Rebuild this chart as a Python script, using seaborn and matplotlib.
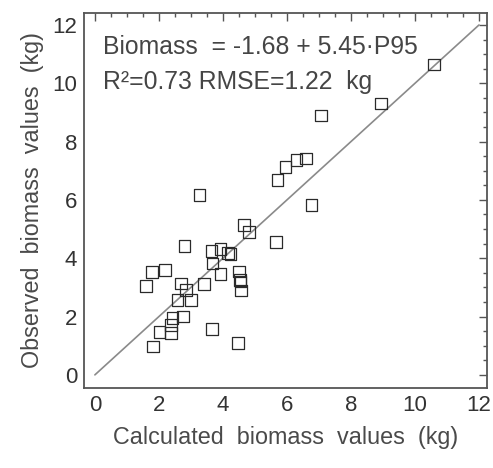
import matplotlib
matplotlib.use("Agg")
import matplotlib.pyplot as plt
import seaborn as sns
import pandas as pd
from matplotlib.ticker import MultipleLocator

calculated = [10.6, 8.93, 7.07, 6.6, 6.3, 5.95, 5.7, 3.27, 6.77, 4.65, 4.81, 5.66,
              2.8, 3.64, 3.92, 4.16, 4.24, 3.67, 3.93, 1.79, 2.19, 1.6, 2.69, 2.84,
              3.41, 2.58, 3.0, 4.5, 4.53, 4.55, 4.57, 2.75, 2.43, 2.38, 2.02, 2.38,
              3.65, 1.82, 4.48]
observed = [10.65, 9.3, 8.9, 7.42, 7.37, 7.13, 6.68, 6.16, 5.83, 5.14, 4.91, 4.55,
            4.43, 4.25, 4.31, 4.19, 4.14, 3.82, 3.46, 3.53, 3.6, 3.04, 3.13, 2.91,
            3.11, 2.57, 2.56, 3.54, 3.26, 3.2, 2.89, 2.0, 1.94, 1.71, 1.46, 1.44,
            1.57, 0.97, 1.09]
line_x = [0, 12]
line_y = [0, 12]
x_ticks = [0, 2, 4, 6, 8, 10, 12]
y_ticks = [0, 2, 4, 6, 8, 10, 12]
equation = "Biomass  = -1.68 + 5.45·P95"
stats = "R²=0.73 RMSE=1.22  kg"
x_label = "Calculated  biomass  values  (kg)"
y_label = "Observed  biomass  values  (kg)"

sns.set_style("white")
plt.rcParams['font.family'] = ['Liberation Sans', 'DejaVu Sans']

df = pd.DataFrame({"calc": calculated, "obs": observed})
line_df = pd.DataFrame({"x": line_x, "y": line_y})

fig = plt.figure(figsize=(4.93, 4.68), dpi=100)
ax = fig.add_axes([84/493, 1-388/468, (487-84)/493, (388-13)/468])

sns.lineplot(data=line_df, x="x", y="y", ax=ax, color="#8a8a8a", linewidth=1.2)
sns.scatterplot(data=df, x="calc", y="obs", ax=ax, marker="s", s=70,
                facecolor="none", edgecolor="#2a2a2a", linewidth=0.9, zorder=3)

ax.set_xlim(-0.34, 12.25)
ax.set_ylim(-0.45, 12.41)
ax.set_xticks(x_ticks)
ax.set_yticks(y_ticks)
ax.xaxis.set_minor_locator(MultipleLocator(0.5))
ax.yaxis.set_minor_locator(MultipleLocator(0.5))
ax.tick_params(which="both", direction="in", top=True, right=True,
               color="#555555", width=1.0)
ax.tick_params(which="major", length=5.5, labelsize=16, labelcolor="#333333", pad=5)
ax.tick_params(which="minor", length=3)
for sp in ax.spines.values():
    sp.set_color("#555555")
    sp.set_linewidth(1.3)

ax.set_xlabel(x_label, fontsize=16.8, color="#4a4a4a", labelpad=7)
ax.set_ylabel(y_label, fontsize=16.8, color="#4a4a4a", labelpad=6)

ax.text(0.25, 11.24, equation, fontsize=17.8, color="#454545", va="center", ha="left")
ax.text(0.25, 10.04, stats, fontsize=17.8, color="#454545", va="center", ha="left")

fig.savefig("out.png", dpi=100)
